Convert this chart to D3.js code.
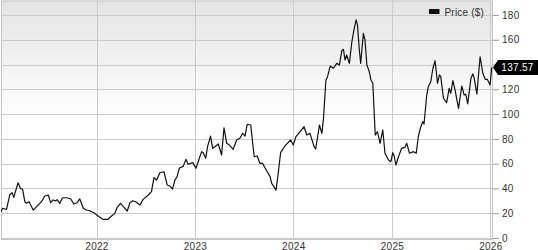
<!DOCTYPE html>
<html><head><meta charset="utf-8">
<script src="https://cdn.jsdelivr.net/npm/d3@7"></script>
<style>
body{margin:0;background:#fff}
text{font-family:"Liberation Sans",Arial,sans-serif}
</style>
</head><body>
<svg id="c" width="538" height="250"></svg>
<script>
const dates = [
"2021-01-08","2021-01-18","2021-02-01","2021-02-13","2021-02-22","2021-02-28","2021-03-16","2021-03-25","2021-04-02","2021-04-10","2021-04-16","2021-04-26","2021-05-11","2021-05-24","2021-06-11","2021-06-23","2021-07-06","2021-07-15","2021-07-24","2021-08-03","2021-08-08","2021-08-18","2021-08-28","2021-09-12","2021-09-27","2021-10-09","2021-10-21","2021-10-31","2021-11-13","2021-11-23","2021-12-07","2021-12-22",
"2022-01-07","2022-01-24","2022-02-13","2022-02-26","2022-03-10","2022-03-19","2022-03-31","2022-04-13","2022-04-25","2022-05-05","2022-05-15","2022-05-26","2022-06-11","2022-06-23","2022-07-12","2022-07-24","2022-08-02","2022-08-12","2022-08-24","2022-09-08","2022-09-20","2022-09-30","2022-10-10","2022-10-19","2022-10-27","2022-11-04","2022-11-19","2022-11-29","2022-12-07","2022-12-24",
"2023-01-05","2023-01-14","2023-01-26","2023-02-01","2023-02-10","2023-02-17","2023-02-28","2023-03-08","2023-03-16","2023-03-29","2023-04-10","2023-04-19","2023-04-29","2023-05-09","2023-05-23","2023-06-05","2023-06-17","2023-06-27","2023-07-06","2023-07-14","2023-07-27","2023-08-09","2023-08-20","2023-08-30","2023-09-09","2023-09-24","2023-10-07","2023-10-13","2023-10-29","2023-11-06","2023-11-15","2023-12-01","2023-12-10","2023-12-22",
"2024-01-01","2024-01-11","2024-01-23","2024-02-10","2024-02-20","2024-03-03","2024-03-18","2024-03-24","2024-04-07","2024-04-16","2024-04-22","2024-05-01","2024-05-07","2024-05-17","2024-05-29","2024-06-10","2024-06-20","2024-06-29","2024-07-05","2024-07-11","2024-07-17","2024-07-27","2024-08-05","2024-08-13","2024-08-21","2024-08-26","2024-09-02","2024-09-07","2024-09-17","2024-09-23","2024-09-30","2024-10-09","2024-10-15","2024-10-22","2024-10-31","2024-11-08","2024-11-18","2024-11-28","2024-12-06","2024-12-19","2024-12-28",
"2025-01-04","2025-01-09","2025-01-16","2025-01-25","2025-02-06","2025-02-18","2025-02-25","2025-03-07","2025-03-22","2025-04-01","2025-04-09","2025-04-18","2025-04-25","2025-04-30","2025-05-10","2025-05-16","2025-05-25","2025-06-02","2025-06-10","2025-06-19","2025-06-26","2025-07-01","2025-07-11","2025-07-23","2025-08-01","2025-08-07","2025-08-15","2025-08-23","2025-09-05","2025-09-17","2025-09-26","2025-10-02","2025-10-09","2025-10-21","2025-10-28","2025-11-02","2025-11-12","2025-11-24","2025-12-04","2025-12-13","2025-12-21","2025-12-31","2026-01-06"
];
const prices = [
20,24,23,34.7,36.6,32.8,44.6,40,39.3,29.3,28,29.3,22.6,25.3,29.3,33.9,34.7,28.5,30.7,30,31,28,32.5,32.5,31.7,27.4,28.5,31.5,24,22.6,22,20.4,
17.8,15.1,15.1,17.8,19.9,24.8,28,24.8,21.8,28.5,30.1,29.3,26.6,31.2,34.7,37.4,48.7,46.8,52.7,53.5,42.8,42,39.5,46.8,49.5,56.3,58,63.5,59.5,60.8,
56.3,62.1,69.7,68.9,64.3,73.7,82.3,72.4,73.7,75.9,67,89,76.4,75,71.6,79.1,80.5,84.5,82.3,91.8,91.2,65.6,66.2,60.3,60.3,54.3,49.5,44.1,38.7,52.2,68.9,74.3,76.4,79.1,
75,81.8,85,89.8,83.1,84.5,73.7,71.8,91.2,84.5,96.6,127.5,130.2,138.8,137,141,139.6,151.2,152.3,143.7,147.7,141,158,168,176,172,151.7,141,165.2,159.8,139.6,134.2,127.5,124.9,83.1,85.8,76.4,87.2,68.4,63,61.6,
68.9,66.2,58.9,65.6,72.4,73.2,76.4,68.4,69.7,68.4,82.3,89.8,93.9,92,115.4,122.1,126.2,137,143.1,124.9,131.6,130.5,112.8,109.2,120.8,116.8,127,119.5,104.7,122.7,115.4,116,108.2,128.9,132.4,129,116.2,146.3,133,128.1,128,123.5,137.57
];
const yTicks = [0,20,40,60,80,100,120,140,160,180];
const xTickYears = ["2022","2023","2024","2025","2026"];
const seriesName = "Price ($)";
const lastLabel = "137.57";

const parse = d3.timeParse("%Y-%m-%d");
const data = dates.map((d,i)=>({date:parse(d), value:prices[i]}));

const svg = d3.select("#c");
const plot = {l:1, r:493, t:0.5, b:239.5};

const x = d3.scaleTime().domain(d3.extent(data, d=>d.date)).range([0, 491.7]);
const y = d3.scaleLinear().domain([0,180]).range([238, 15]);

const defs = svg.append("defs");
const grad = defs.append("linearGradient").attr("id","bg").attr("x1",0).attr("y1",0).attr("x2",0).attr("y2",1);
grad.append("stop").attr("offset","0%").attr("stop-color","#e4e4e4");
grad.append("stop").attr("offset","50%").attr("stop-color","#ffffff");
grad.append("stop").attr("offset","100%").attr("stop-color","#ffffff");
defs.append("clipPath").attr("id","clip").append("rect")
  .attr("x",plot.l).attr("y",plot.t).attr("width",plot.r-plot.l).attr("height",plot.b-plot.t);

svg.append("rect").attr("x",plot.l).attr("y",plot.t).attr("width",plot.r-plot.l).attr("height",plot.b-plot.t)
  .attr("fill","url(#bg)");

// horizontal grid
svg.append("g").selectAll("line").data(yTicks).join("line")
  .attr("x1",plot.l).attr("x2",plot.r)
  .attr("y1",d=>Math.round(y(d))+0.5).attr("y2",d=>Math.round(y(d))+0.5)
  .attr("stroke","#cbcbcb").attr("stroke-width",1);
// vertical grid
const yearDates = xTickYears.map(s=>parse(s+"-01-01"));
svg.append("g").selectAll("line").data(yearDates).join("line")
  .attr("x1",d=>Math.round(x(d))+0.5).attr("x2",d=>Math.round(x(d))+0.5)
  .attr("y1",plot.t).attr("y2",plot.b)
  .attr("stroke","#cbcbcb").attr("stroke-width",1);

// frame
svg.append("rect").attr("x",plot.l+0.5).attr("y",plot.t+0.5).attr("width",plot.r-plot.l-1).attr("height",plot.b-plot.t-0.5)
  .attr("fill","none").attr("stroke","#c4c4c4").attr("stroke-width",1);

// line
svg.append("path").datum(data)
  .attr("clip-path","url(#clip)")
  .attr("fill","none").attr("stroke","#111").attr("stroke-width",1.2).attr("stroke-linejoin","round")
  .attr("d", d3.line().x(d=>x(d.date)).y(d=>y(d.value)));

const last = data[data.length-1];
const ly = y(last.value);

// y axis (tick labels hidden behind the last-value marker are not drawn)
const yAxis = d3.axisRight(y).tickValues(yTicks).tickSize(6).tickPadding(3).tickFormat(d3.format("d"));
const ga = svg.append("g").attr("transform",`translate(${plot.r},0)`).call(yAxis);
ga.select(".domain").remove();
ga.selectAll(".tick line").attr("stroke","#999");
ga.selectAll(".tick text").attr("fill","#333").style("font-size","10px").style("letter-spacing","0.3px")
  .style("font-family",'"Liberation Sans",Arial,sans-serif');
ga.selectAll(".tick").filter(d=>Math.abs(y(d)-ly) < 11).select("text").remove();

// x axis labels
const xAxis = d3.axisBottom(x).tickValues(yearDates).tickSize(0).tickPadding(0).tickFormat(d3.timeFormat("%Y"));
const gx = svg.append("g").attr("transform",`translate(0,${plot.b})`).call(xAxis);
gx.select(".domain").remove();
gx.selectAll(".tick text").attr("fill","#333").attr("dy","0.75em").attr("y",2.5)
  .style("font-size","10px").style("letter-spacing","0.3px")
  .style("font-family",'"Liberation Sans",Arial,sans-serif');

// legend
svg.append("rect").attr("x",429).attr("y",9).attr("width",10.5).attr("height",5).attr("fill","#111");
svg.append("text").attr("x",444.5).attr("y",15.5).attr("fill","#333").style("font-size","10px")
  .style("letter-spacing","0.2px").text(seriesName);

// last value label
const tip = plot.r;
svg.append("path")
  .attr("d",`M${tip},${ly} L${tip+5},${ly-7.5} L538,${ly-7.5} L538,${ly+7.5} L${tip+5},${ly+7.5} Z`)
  .attr("fill","#000");
svg.append("text").attr("x",517.5).attr("y",ly+3.6).attr("text-anchor","middle")
  .attr("fill","#fff").style("font-size","10px").style("letter-spacing","0.3px").text(lastLabel);
</script>
</body></html>
